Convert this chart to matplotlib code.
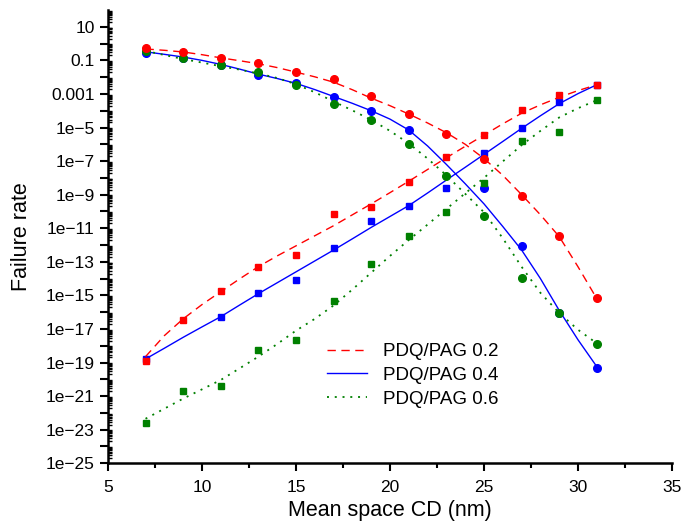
import numpy as np
import matplotlib
matplotlib.use("Agg")
import matplotlib.pyplot as plt
from matplotlib.ticker import FixedLocator, FuncFormatter, LogLocator, MultipleLocator

plt.rcParams['font.family'] = ['Liberation Sans', 'DejaVu Sans']

x = [7, 9, 11, 13, 15, 17, 19, 21, 23, 25, 27, 29, 31]
labels = ['PDQ/PAG 0.2', 'PDQ/PAG 0.4', 'PDQ/PAG 0.6']

# log10 of failure rate
# circles = decreasing branch, squares = increasing branch
red_circ = [-0.29, -0.49, -0.85, -1.18, -1.72, -2.11, -3.13, -4.2, -5.37, -6.86, -9.07, -11.47, -15.18]
blue_circ = [-0.55, -0.87, -1.28, -1.89, -2.34, -3.2, -4.04, -5.15, np.nan, -8.62, -12.04, -16.07, -19.35]
green_circ = [-0.47, -0.88, -1.28, -1.70, -2.47, -3.62, -4.56, -5.97, -7.91, -10.26, -13.99, -16.07, -17.92]

red_sq = [-18.91, -16.47, -14.72, -13.31, -12.6, -10.17, -9.76, -8.25, -6.76, -5.43, -3.98, -3.09, -2.45]
blue_sq = [-18.77, np.nan, -16.29, -14.84, -14.07, -12.16, -10.59, -9.66, -8.62, -6.54, -5.05, -3.47, -2.45]
green_sq = [-22.6, -20.68, -20.42, -18.27, -17.68, -15.36, -13.15, -11.45, -10.04, -8.31, -5.79, -5.27, -3.35]

# fitted curves (log10) at x = 7, 8, ..., 31
x_fit = list(range(7, 32))
red_fit_dn = [-0.32, -0.4, -0.5, -0.66, -0.85, -1.02, -1.2, -1.43, -1.7, -1.98, -2.3, -2.75, -3.25,
              -3.7, -4.2, -4.73, -5.31, -6.0, -6.85, -7.85, -9.0, -10.2, -11.5, -13.3, -15.2]
blue_fit_dn = [-0.49, -0.64, -0.8, -1.0, -1.24, -1.52, -1.82, -2.08, -2.37, -2.74, -3.15, -3.56, -4.0,
               -4.5, -5.15, -6.1, -7.2, -8.35, -9.55, -10.9, -12.3, -14.0, -15.9, -17.65, -19.25]
green_fit_dn = [-0.43, -0.68, -0.92, -1.13, -1.35, -1.55, -1.78, -2.05, -2.42, -2.9, -3.45, -3.98, -4.55,
                -5.2, -5.95, -6.85, -7.85, -8.95, -10.05, -11.6, -13.3, -14.85, -16.05, -17.05, -17.86]

red_fit_up = [-18.65, -17.4, -16.4, -15.55, -14.78, -14.02, -13.29, -12.65, -12.05, -11.45, -10.85, -10.2, -9.55,
              -8.88, -8.2, -7.5, -6.8, -6.12, -5.45, -4.78, -4.15, -3.65, -3.2, -2.8, -2.45]
blue_fit_up = [-18.79, -18.15, -17.5, -16.88, -16.27, -15.58, -14.9, -14.25, -13.6, -12.95, -12.3, -11.63, -10.95,
               -10.3, -9.65, -8.9, -8.13, -7.37, -6.6, -5.83, -5.05, -4.3, -3.58, -2.98, -2.45]
green_fit_up = [-22.35, -21.75, -21.15, -20.6, -20.04, -19.35, -18.65, -17.9, -17.1, -16.4, -15.6, -14.65, -13.65,
                -12.65, -11.7, -10.78, -9.85, -8.92, -8.0, -7.02, -6.05, -5.2, -4.4, -3.85, -3.37]

fig = plt.figure(figsize=(6.83, 5.27), dpi=100)
ax = fig.add_axes([0.158, 0.121, 0.826, 0.860])

xs = np.array(x)
xf = np.array(x_fit)
series = [
    ('blue', '-', blue_circ, blue_sq, blue_fit_dn, blue_fit_up, labels[1]),
    ('green', (0, (1.1, 3.2)), green_circ, green_sq, green_fit_dn, green_fit_up, labels[2]),
    ('red', (0, (6, 4)), red_circ, red_sq, red_fit_dn, red_fit_up, labels[0]),
]
handles = {}
for col, ls, circ, sq, fdn, fup, lab in series:
    lw = 1.3 if col == 'green' else 1.0
    h, = ax.plot(xf, 10.0 ** np.array(fdn), color=col, ls=ls, lw=lw, label=lab)
    ax.plot(xf, 10.0 ** np.array(fup), color=col, ls=ls, lw=lw)
    ax.plot(xs, 10.0 ** np.array(circ), 'o', color=col, ms=5.5, mec=col)
    ax.plot(xs, 10.0 ** np.array(sq), 's', color=col, ms=4.8, mec=col)
    handles[lab] = h

ax.set_yscale('log')
ax.set_xlim(5, 35)
ax.set_ylim(1e-25, 1e2)

ax.spines['top'].set_visible(False)
ax.spines['right'].set_visible(False)
for s in ('left', 'bottom'):
    ax.spines[s].set_linewidth(1.8)

ax.xaxis.set_major_locator(MultipleLocator(5))
ax.xaxis.set_minor_locator(MultipleLocator(2.5))

ax.yaxis.set_major_locator(FixedLocator([10.0 ** k for k in range(-25, 2)]))
def yfmt(v, pos):
    k = int(round(np.log10(v)))
    if (k - 1) % 2 != 0:
        return ''
    if k >= 0:
        return '%d' % round(v)
    if k >= -3:
        return ('%.' + str(-k) + 'f') % v
    return '1e\u2212%d' % (-k)
ax.yaxis.set_major_formatter(FuncFormatter(yfmt))
ax.yaxis.set_minor_locator(LogLocator(base=10, subs=np.arange(2, 10), numticks=100))
ax.yaxis.set_minor_formatter(FuncFormatter(lambda v, p: ''))

ax.tick_params(axis='both', which='major', direction='out', length=6, width=1.5, labelsize=12.5)
ax.tick_params(axis='x', which='major', pad=6)
ax.tick_params(axis='x', which='minor', direction='out', length=3.5, width=1.5)
ax.tick_params(axis='y', which='minor', direction='in', length=3, width=1.0)

ax.set_xlabel('Mean space CD (nm)', fontsize=15.5, labelpad=4)
ax.set_ylabel('Failure rate', fontsize=15.5, labelpad=10)

ax.legend([handles[l] for l in labels], labels, loc='upper left', frameon=False,
          bbox_to_anchor=(327 / 683, 1 - 343 / 527), bbox_transform=fig.transFigure,
          borderpad=0, borderaxespad=0, handlelength=2.15, handletextpad=0.85,
          labelspacing=0.36, fontsize=13.5)

fig.savefig('out.png', dpi=100)
